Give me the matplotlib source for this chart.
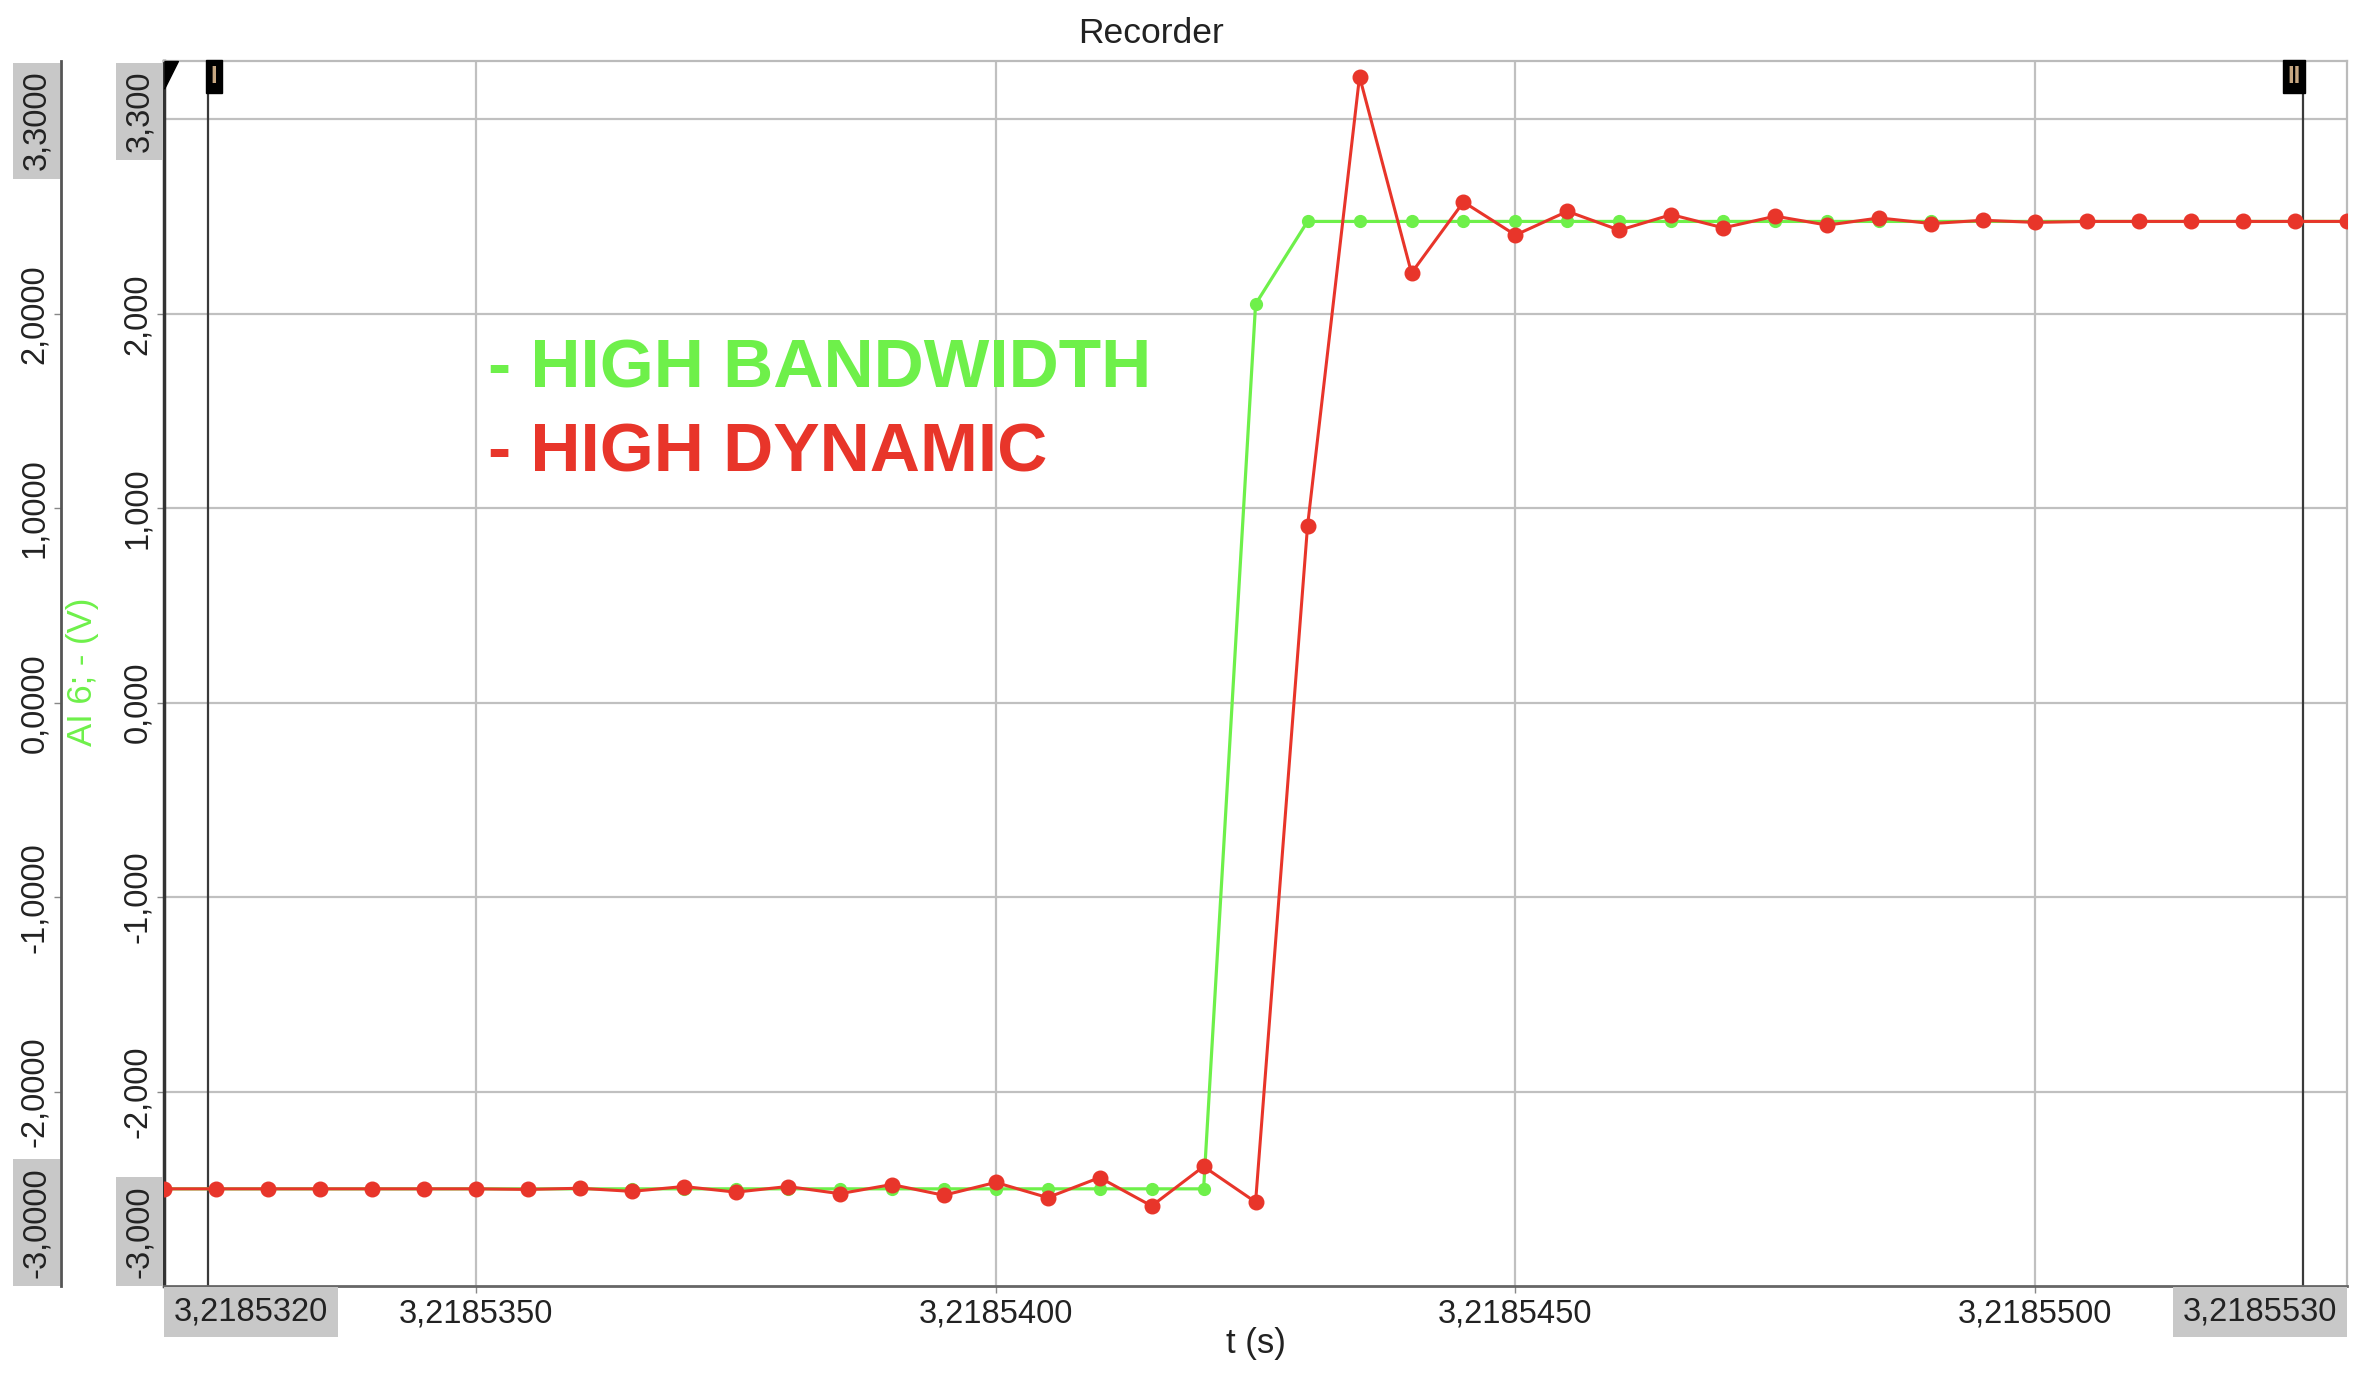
import matplotlib
matplotlib.use("Agg")
import matplotlib.pyplot as plt
import matplotlib.transforms as mtransforms

plt.rcParams['font.family'] = ['Liberation Sans', 'DejaVu Sans']

# time offset from 3,2185320 s, in microseconds (2 MHz sampling)
t_us = [0.0, 0.5, 1.0, 1.5, 2.0, 2.5, 3.0, 3.5, 4.0, 4.5, 5.0, 5.5, 6.0, 6.5,
        7.0, 7.5, 8.0, 8.5, 9.0, 9.5, 10.0, 10.5, 11.0, 11.5, 12.0, 12.5, 13.0,
        13.5, 14.0, 14.5, 15.0, 15.5, 16.0, 16.5, 17.0, 17.5, 18.0, 18.5, 19.0,
        19.5, 20.0, 20.5, 21.0]
t0 = 3.2185320

high_bandwidth = [-2.50, -2.50, -2.50, -2.50, -2.50, -2.50, -2.50, -2.50, -2.50,
                  -2.50, -2.50, -2.50, -2.50, -2.50, -2.50, -2.50, -2.50, -2.50,
                  -2.50, -2.50, -2.50, 2.05, 2.475, 2.475, 2.475, 2.475, 2.475,
                  2.475, 2.475, 2.475, 2.475, 2.475, 2.475, 2.475, 2.475, 2.475,
                  2.475, 2.475, 2.475, 2.475, 2.475, 2.475, 2.475]
high_dynamic = [-2.50, -2.50, -2.50, -2.50, -2.50, -2.50, -2.50, -2.503, -2.497,
                -2.513, -2.488, -2.517, -2.488, -2.525, -2.478, -2.533, -2.467,
                -2.545, -2.442, -2.588, -2.385, -2.568, 0.91, 3.22, 2.21, 2.575,
                2.405, 2.527, 2.430, 2.510, 2.442, 2.502, 2.456, 2.493, 2.464,
                2.481, 2.470, 2.475, 2.475, 2.475, 2.475, 2.475, 2.475]

cursor_t = [0.42, 20.58]
cursor_names = ['I', 'II']

x_ticks = [3, 8, 13, 18]
x_lim = (0.0, 21.0)
y_ticks = [-2, -1, 0, 1, 2, 3]
y_lim = (-3.0, 3.3)

green = '#6ef04a'
red = '#e8352a'
grid_c = '#c0c0c0'
box_c = '#c8c8c8'
txt_c = '#222222'
fs = 23.5


def xfmt(t):
    return f"{t0 + t * 1e-6:.7f}".replace('.', ',')


def yfmt(v, nd):
    return f"{v:.{nd}f}".replace('.', ',')


fig = plt.figure(figsize=(23.78, 13.74), dpi=100)
ax = fig.add_axes([0.069, 0.064, 0.918, 0.8916])
ax.set_xlim(*x_lim)
ax.set_ylim(*y_lim)

ax.plot(t_us, high_bandwidth, color=green, lw=2.3, marker='o', ms=8.5,
        zorder=3)
ax.plot(t_us, high_dynamic, color=red, lw=2.2, marker='o', ms=10.5, zorder=4)

# grid
ax.set_xticks(x_ticks, labels=[xfmt(t) for t in x_ticks])
ax.set_yticks(y_ticks, labels=[yfmt(v, 3) if v < 3 else '' for v in y_ticks])
ax.grid(True, color=grid_c, lw=1.6)
ax.set_axisbelow(True)
ax.tick_params(axis='x', length=5, width=1, color='#888888', pad=4,
               labelsize=fs, labelcolor=txt_c)
ax.tick_params(axis='y', length=5, width=1, color='#888888', pad=3,
               labelsize=fs, labelcolor=txt_c, labelrotation=90)
for lab in ax.get_yticklabels():
    lab.set_va('center')

for s in ['top', 'right']:
    ax.spines[s].set_color('#bbbbbb')
    ax.spines[s].set_linewidth(1.6)
ax.spines['left'].set_color('#333333')
ax.spines['left'].set_linewidth(2.5)
ax.spines['bottom'].set_color('#666666')
ax.spines['bottom'].set_linewidth(2)

# cursors
for ct, name in zip(cursor_t, cursor_names):
    ax.axvline(ct, color='#3a3a3a', lw=1.6, zorder=2)
blend_xa = mtransforms.blended_transform_factory(ax.transData, ax.transAxes)
ax.annotate(cursor_names[0], xy=(cursor_t[0], 1), xycoords=blend_xa,
            xytext=(2, -3), textcoords='offset points', ha='left', va='top',
            fontsize=17, fontweight='bold', color='#c8a882',
            bbox=dict(boxstyle='square,pad=0.2', fc='black', ec='black'))
ax.annotate(cursor_names[1], xy=(cursor_t[1], 1), xycoords=blend_xa,
            xytext=(-2, -3), textcoords='offset points', ha='right', va='top',
            fontsize=17, fontweight='bold', color='#c8a882',
            bbox=dict(boxstyle='square,pad=0.2', fc='black', ec='black'))
ax.plot([0], [1], transform=ax.transAxes, marker=[(0, 0), (1, 0), (0, -2)],
        ms=40, color='black', clip_on=False, zorder=6)

# boxed end labels on x axis
box = dict(boxstyle='square,pad=0.3', fc=box_c, ec='none')
ax.annotate(xfmt(x_lim[0]), xy=(x_lim[0], 0), xycoords=blend_xa,
            xytext=(7, -7.5), textcoords='offset points', ha='left',
            va='top', fontsize=fs, color=txt_c, bbox=box)
ax.annotate(xfmt(x_lim[1]), xy=(x_lim[1], 0), xycoords=blend_xa,
            xytext=(-7, -7.5), textcoords='offset points', ha='right',
            va='top', fontsize=fs, color=txt_c, bbox=box)

# outer y axis (4 decimals)
outer_pos = -0.0472
sec = ax.secondary_yaxis(outer_pos)
sec.set_yticks(y_ticks[:-1], labels=[yfmt(v, 4) for v in y_ticks[:-1]])
sec.tick_params(length=5, width=1, color='#888888', pad=3, labelsize=fs,
                labelcolor=txt_c, labelrotation=90)
for lab in sec.get_yticklabels():
    lab.set_va('center')
sec.spines['left'].set_color('#555555')
sec.spines['left'].set_linewidth(2)

# boxed end labels on both y axes
blend_ay = mtransforms.blended_transform_factory(ax.transAxes, ax.transData)
ybox = dict(boxstyle='square,pad=0.25', fc=box_c, ec='none')
for xpos, nd in [(0, 3), (outer_pos, 4)]:
    ax.annotate(yfmt(y_lim[1], nd), xy=(xpos, y_lim[1]), xycoords=blend_ay,
                xytext=(-6.5, -7), textcoords='offset points', ha='right',
                va='top', rotation=90, fontsize=fs, color=txt_c, bbox=ybox,
                annotation_clip=False)
    ax.annotate(yfmt(y_lim[0], nd), xy=(xpos, y_lim[0]), xycoords=blend_ay,
                xytext=(-6.5, 6), textcoords='offset points', ha='right',
                va='bottom', rotation=90, fontsize=fs, color=txt_c, bbox=ybox,
                annotation_clip=False)

ax.text(-0.0375, 0.501, 'AI 6; - (V)', transform=ax.transAxes, rotation=90,
        ha='center', va='center', fontsize=fs + 1.5, color=green)

ax.set_xlabel('t (s)', fontsize=fs + 1.5, color=txt_c)
ax.xaxis.set_label_coords(0.5, -0.047)
ax.xaxis.label.set_va('center')

fig.text(0.484, 0.9757, 'Recorder', ha='center', va='center',
         fontsize=fs + 2, color=txt_c)

# series annotation
ax.text(0.1486, 0.748, '- HIGH BANDWIDTH', transform=ax.transAxes,
        ha='left', va='center', fontsize=50, fontweight='bold', color=green)
ax.text(0.1486, 0.680, '- HIGH DYNAMIC', transform=ax.transAxes,
        ha='left', va='center', fontsize=50, fontweight='bold', color=red)

fig.savefig('out.png', dpi=100)
